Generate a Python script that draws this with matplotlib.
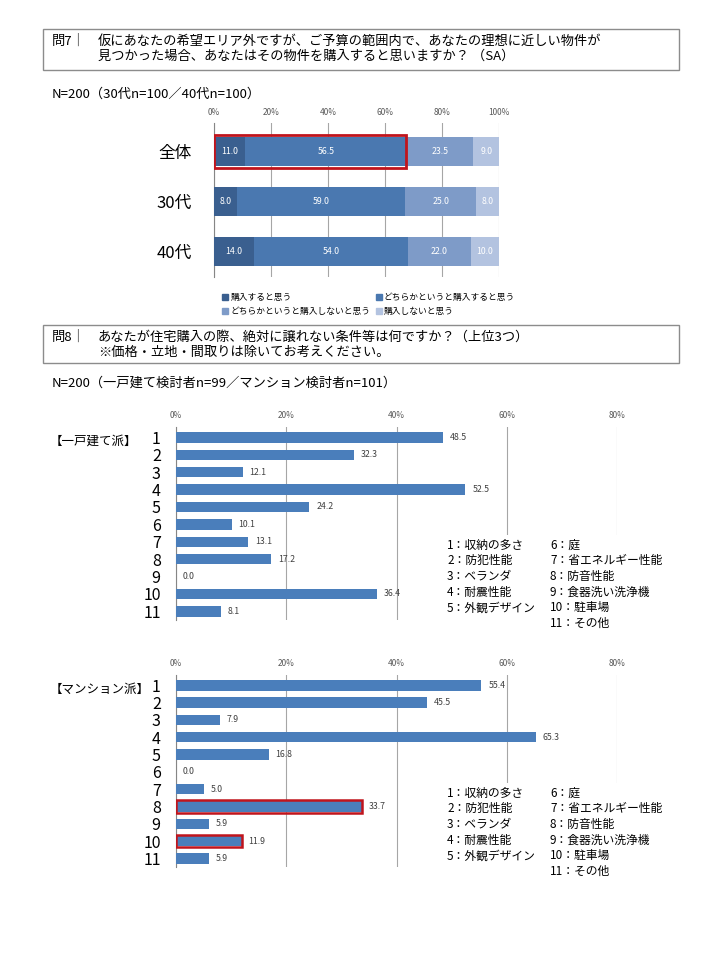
import matplotlib.pyplot as plt
from matplotlib.patches import Rectangle, Patch

plt.rcParams['font.family'] = ['Noto Sans CJK JP', 'DejaVu Sans']

W, H = 720, 960

# Q7 data
q7_groups = ["全体", "30代", "40代"]
q7_series = ["購入すると思う", "どちらかというと購入すると思う",
             "どちらかというと購入しないと思う", "購入しないと思う"]
q7_values = [
    [11.0, 8.0, 14.0],
    [56.5, 59.0, 54.0],
    [23.5, 25.0, 22.0],
    [9.0, 8.0, 10.0],
]
q7_colors = ["#3A5F8F", "#4A78B0", "#7E9BC8", "#B3C3E0"]

# Q8 data
q8_items = [str(i) for i in range(1, 12)]
house_values = [48.5, 32.3, 12.1, 52.5, 24.2, 10.1, 13.1, 17.2, 0.0, 36.4, 8.1]
mansion_values = [55.4, 45.5, 7.9, 65.3, 16.8, 0.0, 5.0, 33.7, 5.9, 11.9, 5.9]
mansion_marked = [8, 10]
key_col1 = ["1：収納の多さ", "2：防犯性能", "3：ベランダ", "4：耐震性能", "5：外観デザイン"]
key_col2 = ["6：庭", "7：省エネルギー性能", "8：防音性能", "9：食器洗い洗浄機", "10：駐車場", "11：その他"]

RED = "#C0141C"
BAR = "#4A7EBB"
GRID = "#A6A6A6"


def fx(x):
    return x / W


def fy(y):
    return 1 - y / H


def axes_px(fig, left, top, right, bottom):
    return fig.add_axes([fx(left), fy(bottom), (right - left) / W, (bottom - top) / H])


def text_px(fig, x, y, s, **kw):
    fig.text(fx(x), fy(y), s, va="center", **kw)


def question_box(fig, top, bottom, lines):
    fig.patches.append(Rectangle((fx(43), fy(bottom)), (679 - 43) / W, (bottom - top) / H,
                                 transform=fig.transFigure, fill=False,
                                 edgecolor="#8C8C8C", lw=1.0))
    for i, (pre, s) in enumerate(lines):
        y = top + 12 + i * 15
        if pre:
            text_px(fig, 52, y, pre, fontsize=9.5)
        text_px(fig, 98, y, s, fontsize=9.5)


def item_chart(fig, top, bottom, values, label, marked=()):
    ax = axes_px(fig, 176, top, 617, bottom)
    y = list(range(len(values)))
    ax.barh(y, values, height=0.6, color=BAR, zorder=3)
    for i, v in enumerate(values):
        ax.annotate(f"{v:.1f}", (v, i), xytext=(5, 0), textcoords="offset points",
                    va="center", fontsize=6.3, color="#404040", zorder=4)
    for k in marked:
        i = k - 1
        ax.add_patch(Rectangle((0, i - 0.36), values[i], 0.72, fill=False,
                               edgecolor=RED, lw=1.8, zorder=5))
    ax.set_xlim(0, 80)
    ax.set_ylim(len(values) - 0.5, -0.6)
    ax.set_xticks([0, 20, 40, 60, 80])
    ax.set_xticklabels([f"{t}%" for t in [0, 20, 40, 60, 80]])
    ax.xaxis.tick_top()
    ax.tick_params(axis="x", length=0, labelsize=6, labelcolor="#595959", pad=5)
    ax.set_yticks(y)
    ax.set_yticklabels(q8_items)
    ax.tick_params(axis="y", length=0, labelsize=11.5, pad=11)
    ax.grid(axis="x", color=GRID, lw=0.8, zorder=0)
    for s in ["top", "right", "bottom"]:
        ax.spines[s].set_visible(False)
    ax.spines["left"].set_color("#868686")
    text_px(fig, 50, top + 14, label, fontsize=9)
    # key box for item numbers
    key_top = top + 108
    fig.patches.append(Rectangle((fx(440), fy(key_top + 100)), (705 - 440) / W, 100 / H,
                                 transform=fig.transFigure, facecolor="white",
                                 edgecolor="none", zorder=2))
    for i, s in enumerate(key_col1):
        fig.text(fx(447), fy(key_top + 10 + i * 15.7), s, va="center", fontsize=8.5, zorder=3)
    for i, s in enumerate(key_col2):
        fig.text(fx(550), fy(key_top + 10 + i * 15.7), s, va="center", fontsize=8.5, zorder=3)
    return ax


fig = plt.figure(figsize=(7.2, 9.6), dpi=100)

# ---- Q7 ----
question_box(fig, 29, 70, [("問7｜", "仮にあなたの希望エリア外ですが、ご予算の範囲内で、あなたの理想に近しい物件が"),
                           ("", "見つかった場合、あなたはその物件を購入すると思いますか？ （SA）")])
text_px(fig, 52, 94, "N=200（30代n=100／40代n=100）", fontsize=9.5)

ax1 = axes_px(fig, 214, 123, 499, 277)
left = [0, 0, 0]
for name, vals, col in zip(q7_series, q7_values, q7_colors):
    ax1.barh(range(3), vals, left=left, height=0.58, color=col, label=name, zorder=3)
    for i, v in enumerate(vals):
        ax1.text(left[i] + v / 2, i, f"{v:.1f}", ha="center", va="center",
                 fontsize=6.3, color="white", zorder=4)
    left = [a + b for a, b in zip(left, vals)]
ax1.add_patch(Rectangle((0, -0.33), q7_values[0][0] + q7_values[1][0], 0.66, fill=False,
                        edgecolor=RED, lw=2, zorder=5))
ax1.set_xlim(0, 100)
ax1.set_ylim(2.5, -0.56)
ax1.set_xticks([0, 20, 40, 60, 80, 100])
ax1.set_xticklabels([f"{t}%" for t in [0, 20, 40, 60, 80, 100]])
ax1.xaxis.tick_top()
ax1.tick_params(axis="x", length=0, labelsize=6, labelcolor="#595959", pad=4)
ax1.set_yticks(range(3))
ax1.set_yticklabels(q7_groups)
ax1.tick_params(axis="y", length=0, labelsize=12, pad=16)
ax1.grid(axis="x", color=GRID, lw=0.8, zorder=0)
for s in ["top", "right", "bottom"]:
    ax1.spines[s].set_visible(False)
ax1.spines["left"].set_color("#868686")

handles = [Patch(color=c) for c in q7_colors]
order = [0, 2, 1, 3]
ax1.legend([handles[i] for i in order], [q7_series[i] for i in order], ncol=2,
           loc="upper left", bbox_to_anchor=(fx(218), fy(289)),
           bbox_transform=fig.transFigure, frameon=False, fontsize=6.3,
           handlelength=0.7, handleheight=0.7, handletextpad=0.2,
           columnspacing=0.6, labelspacing=0.55, borderpad=0)

# ---- Q8 ----
question_box(fig, 325, 363, [("問8｜", "あなたが住宅購入の際、絶対に譲れない条件等は何ですか？（上位3つ）"),
                             ("", "※価格・立地・間取りは除いてお考えください。")])
text_px(fig, 52, 383, "N=200（一戸建て検討者n=99／マンション検討者n=101）", fontsize=9.5)

item_chart(fig, 427, 620, house_values, "【一戸建て派】")
item_chart(fig, 675, 867, mansion_values, "【マンション派】", mansion_marked)

fig.savefig("out.png", dpi=100, facecolor="white")
